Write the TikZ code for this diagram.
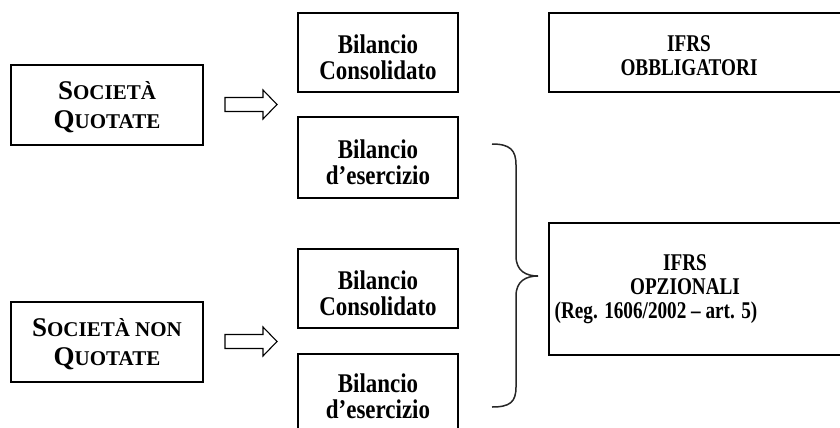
\documentclass[tikz,border=0pt]{standalone}
\usepackage{fontspec}
\setmainfont{Liberation Serif}
\newfontfamily\condfont[FakeStretch=0.85]{Liberation Serif}
\newfontfamily\ifrsfont[FakeStretch=0.8]{Liberation Serif}
\newcommand\capL[1]{{\fontsize{27}{29}\selectfont #1}}
\begin{document}
\begin{tikzpicture}[x=1pt,y=-1pt,
  box/.style={draw, line width=1.3pt, inner sep=0pt},
  txt/.style={inner sep=0pt, align=center},
  soctext/.style={txt, font=\bfseries\fontsize{21}{29}\selectfont},
  biltext/.style={txt, font=\condfont\bfseries\fontsize{27}{26}\selectfont},
  ifrstext/.style={txt, font=\ifrsfont\bfseries\fontsize{24}{24}\selectfont},
  arrowline/.style={draw, line width=1.1pt, line join=miter},
  bracepath/.style={draw, line width=1.5pt, black!85}
]
\useasboundingbox (0,0) rectangle (840,428);
\clip (0,0) rectangle (840,428);
\fill[white] (0,0) rectangle (840,428);

% left boxes
\node[box, minimum width=192pt, minimum height=80pt] (sq) at (107,105) {};
\node[soctext] (sqt) at (107,107) {\capL{S}OCIETÀ\\\capL{Q}UOTATE};
\node[box, minimum width=192pt, minimum height=80pt] (snq) at (107,342) {};
\node[soctext] (snqt) at (107,344) {\capL{S}OCIETÀ NON\\\capL{Q}UOTATE};

% hollow arrows
\coordinate (a1) at (251,104.5);
\coordinate (a2) at (251,341.5);
\foreach \c in {a1,a2}
  \draw[arrowline, shift={(\c)}] (-26,-7) -- (12,-7) -- (12,-14.5) -- (26,0)
    -- (12,14.5) -- (12,7) -- (-26,7) -- cycle;

% middle boxes
\node[box, minimum width=160pt, minimum height=79pt] (bc1) at (378,52.5) {};
\node[biltext] (bc1t) at (378,57) {Bilancio\\Consolidato};
\node[box, minimum width=160pt, minimum height=81pt] (be1) at (378,157.5) {};
\node[biltext] (be1t) at (378,162) {Bilancio\\d’esercizio};
\node[box, minimum width=160pt, minimum height=79pt] (bc2) at (378,288.5) {};
\node[biltext] (bc2t) at (378,293) {Bilancio\\Consolidato};
\node[box, minimum width=160pt, minimum height=80pt] (be2) at (378,394) {};
\node[biltext] (be2t) at (378,396) {Bilancio\\d’esercizio};

% right boxes
\node[box, minimum width=301pt, minimum height=79pt] (ob) at (699.5,52.5) {};
\node[ifrstext] (obt) at (689,56) {IFRS\\OBBLIGATORI};
\node[box, minimum width=301pt, minimum height=132pt] (op) at (699.5,289) {};
\node[ifrstext] (opt) at (685,289) {IFRS\\OPZIONALI\\(Reg. 1606/2002 – art. 5)\hspace*{58pt}};

% brace
\coordinate (bt) at (492,144);
\coordinate (bm) at (538,276);
\coordinate (bb) at (492,407);
\draw[bracepath] (bt) .. controls (510,144) and (516,150) .. (516,165)
  -- (516,256) .. controls (516,271) and (526,276) .. (bm)
  .. controls (526,276) and (516,281) .. (516,296)
  -- (516,387) .. controls (516,402) and (510,407) .. (bb);
\end{tikzpicture}
\end{document}
